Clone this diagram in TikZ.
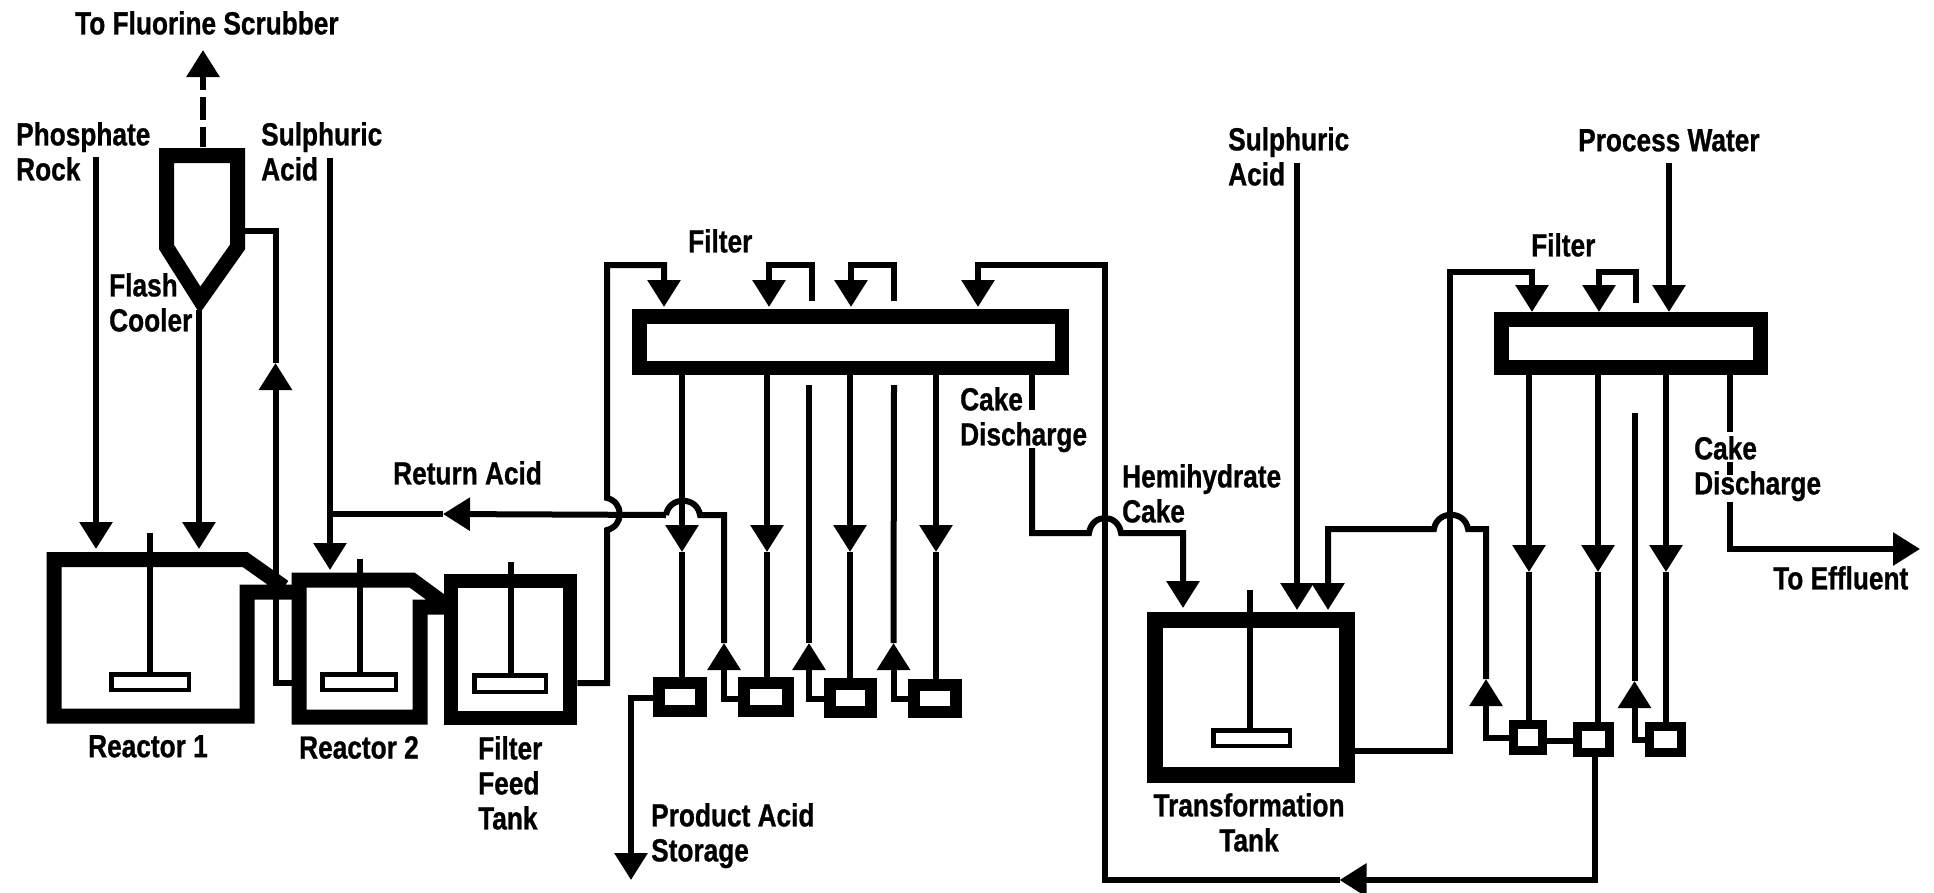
\documentclass[tikz,border=0pt]{standalone}
\usepackage{fontspec}
\usetikzlibrary{arrows.meta}
\newfontfamily\lblfont[FakeStretch=0.82,FakeBold=0.8]{Liberation Sans}
\tikzset{
  flow/.style={line width=6pt,draw=black},
  head/.style={-{Triangle[width=32pt,length=27pt]}},
  vessel/.style={draw=black,line width=14.5pt,fill=white,inner sep=0pt,minimum width=#1},
  pump/.style={draw=black,line width=12pt,inner sep=0pt},
  smallpump/.style={draw=black,line width=9pt,inner sep=0pt},
  paddle/.style={draw=black,line width=4.5pt,fill=white,inner sep=0pt},
  shaft/.style={line width=6pt,draw=black},
  wall/.style={draw=black,line width=15pt,miter limit=10},
  lab/.style={font=\lblfont\bfseries\fontsize{32}{35}\selectfont,inner sep=0pt,anchor=north west,align=left,text=black},
}
\begin{document}
\begin{tikzpicture}[x=1pt,y=-1pt]
\useasboundingbox (0,0) rectangle (1934,892);

% ---------- named points ----------
\coordinate (scrub) at (203,50);
\coordinate (cooltop) at (203,147);
\coordinate (coolout) at (199,310);
\coordinate (coolside) at (244,231);
\coordinate (rockin) at (96,157);
\coordinate (rocktip) at (96,549);
\coordinate (cooltip) at (199,549);
\coordinate (sulin) at (330,158);
\coordinate (sultip) at (330,570);
\coordinate (rectip) at (275.5,363);
\coordinate (recin) at (294,683);

% ---------- vessels ----------
\draw[wall,fill=white] (166.5,155.5) -- (237.5,155.5) -- (237.5,247) -- (200,300) -- (166.5,247) -- cycle;
\draw[wall] (293,592) -- (247,592) -- (247,716) -- (54,716) -- (54,559.5) -- (245,559.5) -- (284,587);
\draw[wall] (448,607) -- (420,607) -- (420,717) -- (299,717) -- (299,580) -- (412,580) -- (442,602);
\node[vessel=119pt,minimum height=137pt] (fft) at (510.5,649.5) {};
\node[vessel=192pt,minimum height=155pt,line width=16pt] (ttank) at (1250.5,697.5) {};
\node[vessel=422.5pt,minimum height=51.5pt] (filterA) at (850.5,342) {};
\node[vessel=259pt,minimum height=48pt] (filterB) at (1631,343.5) {};

\node[pump,minimum width=42pt,minimum height=28pt] (p1) at (680,697) {};
\node[pump,minimum width=44pt,minimum height=28pt] (p2) at (766,697) {};
\node[pump,minimum width=41pt,minimum height=28pt] (p3) at (850.5,698) {};
\node[pump,minimum width=41.5pt,minimum height=27pt] (p4) at (935,698.5) {};
\node[smallpump,minimum width=29pt,minimum height=26pt] (qa) at (1528,737.5) {};
\node[smallpump,minimum width=32pt,minimum height=26pt] (qb) at (1593.5,739.5) {};
\node[smallpump,minimum width=32pt,minimum height=26pt] (qc) at (1665,739.5) {};

% ---------- agitators ----------
\node[paddle,minimum width=77.5pt,minimum height=15.5pt] (pad1) at (150,682) {};
\node[paddle,minimum width=73.5pt,minimum height=15.5pt] (pad2) at (359,682) {};
\node[paddle,minimum width=71.5pt,minimum height=16.5pt] (pad3) at (510,683.5) {};
\node[paddle,minimum width=76.5pt,minimum height=15.5pt] (pad4) at (1251.5,738) {};
\coordinate (s1) at (150,533); \coordinate (s2) at (360,559);
\coordinate (s3) at (511,562); \coordinate (s4) at (1250,590);
\draw[shaft] (s1) -- (pad1.north -| s1);
\draw[shaft] (s2) -- (pad2.north -| s2);
\draw[shaft] (s3) -- (pad3.north -| s3);
\draw[shaft] (s4) -- (pad4.north -| s4);

% ---------- left feed lines ----------
\draw[flow,head,dash pattern=on 20pt off 7pt on 23pt off 7pt on 60pt] (cooltop) -- (scrub);
\draw[flow,head] (rockin) -- (rocktip);
\draw[flow,head] (coolout) -- (cooltip);
\draw[flow,head] (sulin) -- (sultip);
\draw[flow,head] (recin) -- (275.5,683) -- (rectip);
\draw[flow] (rectip) -- (275.5,231) -- (coolside);

% ---------- filter A: bottom lines and pumps ----------
\coordinate (a1) at (682,552); \coordinate (a2) at (767,552);
\coordinate (a3) at (850,552); \coordinate (a4) at (936,552);
\draw[flow,head] (filterA.south -| a1) -- (a1); \draw[flow] (a1) -- (p1.north -| a1);
\draw[flow,head] (filterA.south -| a2) -- (a2); \draw[flow] (a2) -- (p2.north -| a2);
\draw[flow,head] (filterA.south -| a3) -- (a3); \draw[flow] (a3) -- (p3.north -| a3);
\draw[flow,head] (filterA.south -| a4) -- (a4); \draw[flow] (a4) -- (p4.north -| a4);

% ---------- filter A: return lines ----------
\coordinate (u1) at (724,643); \coordinate (u2) at (809,643); \coordinate (u3) at (893.5,643);
\coordinate (retip) at (443,514);
\coordinate (u2top) at (809,385); \coordinate (u3top) at (894,385);
\coordinate (v2bot) at (812,301); \coordinate (v3bot) at (894,301);
\coordinate (t1) at (664,307); \coordinate (t2) at (769,307);
\coordinate (t3) at (851,307); \coordinate (t4) at (978,307);
\draw[flow,head] (p2.west |- 0,699) -- (724,699) -- (u1);
\draw[flow] (u1) -- (724,515) -- (700,515) .. controls (697,496) and (669,496) .. (666,515);
\draw[flow,head] (666,515) -- (retip);
\draw[flow] (retip) -- (sulin |- retip);
\draw[flow,head] (p3.west |- 0,699) -- (809,699) -- (u2);
\draw[flow] (u2) -- (u2top);
\draw[flow,head] (p4.west |- 0,699) -- (893.5,699) -- (u3);
\draw[flow] (u3) -- (u3top);
\draw[flow,head] (v2bot) -- (812,265) -- (769,265) -- (t2);
\draw[flow,head] (v3bot) -- (894,265) -- (851,265) -- (t3);

% filter feed to filter A with jump over the return line
\draw[flow,head] (fft.east |- 0,683) -- (607,683) -- (607,530)
   .. controls (624,526) and (624,502) .. (607,498) -- (607,265) -- (664,265) -- (t1);

% product acid
\coordinate (prod) at (631,880);
\draw[flow,head] (p1.west |- 0,698) -- (631,698) -- (prod);

% ---------- wash return from filter B to filter A ----------
\coordinate (w2) at (1339.5,880);
\draw[flow,head] (qb.south -| 1595,0) -- (1595,880) -- (w2);
\draw[flow,head] (w2) -- (1105,880) -- (1105,265) -- (978,265) -- (t4);

% ---------- cake from filter A ----------
\coordinate (cakeA1) at (1032,410); \coordinate (cakeA2) at (1032,448);
\coordinate (t5) at (1183,608);
\draw[flow] (filterA.south -| cakeA1) -- (cakeA1);
\draw[flow,head] (cakeA2) -- (1032,533) -- (1089,533) .. controls (1092,513) and (1118,513) .. (1121,533) -- (1183,533) -- (t5);

% ---------- transformation tank and filter B ----------
\coordinate (acidin) at (1297,163); \coordinate (t6) at (1297,610);
\draw[flow,head] (acidin) -- (t6);
\coordinate (u4) at (1486,679); \coordinate (t7) at (1328,610);
\draw[flow,head] (qa.west |- 0,738) -- (1486,738) -- (u4);
\draw[flow,head] (u4) -- (1486,529) -- (1468,529) .. controls (1465,510) and (1437,510) .. (1434,529) -- (1328,529) -- (t7);

\coordinate (t8) at (1532,312); \coordinate (t9) at (1599,312);
\coordinate (t10) at (1669,312); \coordinate (water) at (1669,163);
\draw[flow,head] (ttank.east |- 0,751) -- (1450,751) -- (1450,272) -- (1532,272) -- (t8);
\coordinate (v4bot) at (1636,303);
\draw[flow,head] (v4bot) -- (1636,272) -- (1599,272) -- (t9);
\draw[flow,head] (water) -- (t10);

\coordinate (b1) at (1529,572); \coordinate (b2) at (1598,572); \coordinate (b3) at (1666,572);
\draw[flow,head] (filterB.south -| b1) -- (b1); \draw[flow] (b1) -- (qa.north -| b1);
\draw[flow,head] (filterB.south -| b2) -- (b2); \draw[flow] (b2) -- (qb.north -| b2);
\draw[flow,head] (filterB.south -| b3) -- (b3); \draw[flow] (b3) -- (qc.north -| b3);
\coordinate (u5) at (1634.5,681); \coordinate (u5top) at (1634.5,413);
\draw[flow,head] (qc.west |- 0,740) -- (1634.5,740) -- (u5);
\draw[flow] (u5) -- (u5top);
\draw[flow] (qa.east |- 0,741) -- (qb.west |- 0,741);

% cake from filter B
\coordinate (c1) at (1730,432); \coordinate (c2) at (1730,462); \coordinate (c3) at (1730,475);
\coordinate (c4) at (1730,502); \coordinate (eff) at (1920,549);
\draw[flow] (filterB.south -| c1) -- (c1);
\draw[flow] (c2) -- (c3);
\draw[flow,head] (c4) -- (1730,549) -- (eff);

% ---------- labels ----------
\node[lab] (lScrub) at (75,11) {To Fluorine Scrubber};
\node[lab] (lRock) at (16,122) {Phosphate\\Rock};
\node[lab] (lSul) at (261,122) {Sulphuric\\Acid};
\node[lab] (lFlash) at (109,273) {Flash\\Cooler};
\node[lab] (lRet) at (393,461) {Return Acid};
\node[lab] (lR1) at (88,735) {Reactor 1};
\node[lab] (lR2) at (299,736) {Reactor 2};
\node[lab] (lFFT) at (478,736) {Filter\\Feed\\Tank};
\node[lab] (lFil) at (688,229) {Filter};
\node[lab] (lCake) at (960,387) {Cake\\Discharge};
\node[lab] (lHemi) at (1122,464) {Hemihydrate\\Cake};
\node[lab] (lProd) at (651,803) {Product Acid\\Storage};
\node[lab] (lSul2) at (1228,127) {Sulphuric\\Acid};
\node[lab] (lWater) at (1578,129) {Process Water};
\node[lab] (lFil2) at (1531,233) {Filter};
\node[lab] (lCake2) at (1694,436) {Cake\\Discharge};
\node[lab] (lEff) at (1773,566) {To Effluent};
\node[lab,anchor=north,align=center] (lTT) at (1249,793) {Transformation\\Tank};
\end{tikzpicture}
\end{document}
